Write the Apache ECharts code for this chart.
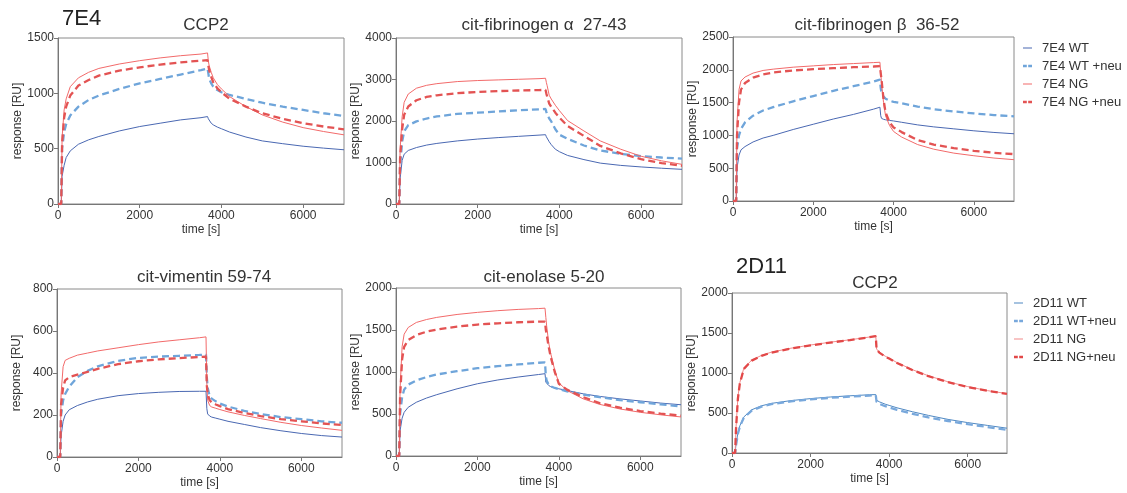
<!DOCTYPE html>
<html>
<head>
<meta charset="utf-8">
<script src="https://cdn.jsdelivr.net/npm/echarts@6/dist/echarts.min.js"></script>
<style>
  html, body { margin: 0; padding: 0; background: #fff; }
  #chart { width: 1127px; height: 493px; }
</style>
</head>
<body>
<div id="chart"></div>
<script>
// sampling times (s), shared by every curve
const time = [0, 80, 100, 150, 200, 300, 500, 750, 1000, 1500, 2000, 2500, 3000, 3500, 3660,
  3680, 3700, 3750, 3800, 3900, 4000, 4200, 4600, 5000, 5500, 6000, 6500, 7000]
const xTicks = [0, 2000, 4000, 6000]

// 7E4 - CCP2
const ccp2WT = [0, 0, 250, 350, 420, 480, 540, 580, 610, 660, 700, 730, 760, 780, 790,
  770, 755, 730, 715, 695, 680, 650, 605, 570, 545, 522, 505, 490]
const ccp2WTneu = [0, 0, 500, 650, 720, 800, 880, 940, 980, 1040, 1090, 1130, 1170, 1210, 1225,
  1180, 1130, 1090, 1060, 1030, 1010, 985, 950, 915, 880, 850, 820, 795]
const ccp2NG = [0, 0, 600, 850, 950, 1060, 1140, 1190, 1225, 1265, 1295, 1320, 1340, 1355, 1365,
  1290, 1250, 1190, 1140, 1080, 1040, 970, 880, 805, 740, 690, 655, 625]
const ccp2NGneu = [0, 0, 550, 780, 880, 980, 1070, 1120, 1160, 1205, 1235, 1260, 1280, 1295, 1300,
  1250, 1210, 1150, 1100, 1045, 1010, 950, 880, 820, 770, 730, 700, 675]

// 7E4 - cit-fibrinogen alpha 27-43
const fibaWT = [0, 0, 600, 1050, 1200, 1290, 1360, 1420, 1460, 1520, 1565, 1600, 1630, 1660, 1670,
  1620, 1580, 1500, 1430, 1320, 1260, 1170, 1070, 985, 930, 893, 862, 835]
const fibaWTneu = [0, 0, 900, 1500, 1750, 1900, 1990, 2060, 2110, 2170, 2200, 2230, 2260, 2280, 2290,
  2220, 2160, 2060, 1990, 1800, 1670, 1570, 1410, 1290, 1210, 1155, 1120, 1092]
const fibaNG = [0, 0, 1300, 2100, 2450, 2650, 2790, 2860, 2900, 2950, 2975, 2990, 3005, 3020, 3030,
  2930, 2850, 2620, 2530, 2380, 2250, 2010, 1760, 1520, 1320, 1150, 1040, 955]
const fibaNGneu = [0, 0, 1100, 1800, 2150, 2350, 2500, 2580, 2620, 2670, 2700, 2720, 2735, 2745, 2750,
  2660, 2590, 2420, 2340, 2200, 2080, 1880, 1640, 1400, 1220, 1080, 985, 920]

// 7E4 - cit-fibrinogen beta 36-52
const fibbWT = [0, 0, 500, 700, 780, 830, 900, 960, 1000, 1090, 1170, 1250, 1320, 1400, 1430,
  1300, 1260, 1245, 1238, 1228, 1220, 1200, 1160, 1130, 1100, 1070, 1045, 1025]
const fibbWTneu = [0, 0, 800, 1000, 1100, 1200, 1300, 1380, 1430, 1520, 1600, 1680, 1750, 1820, 1850,
  1720, 1650, 1590, 1560, 1530, 1510, 1490, 1440, 1400, 1365, 1335, 1310, 1290]
const fibbNG = [0, 0, 1200, 1700, 1830, 1890, 1950, 1990, 2010, 2040, 2060, 2080, 2095, 2110, 2115,
  1950, 1800, 1500, 1300, 1150, 1060, 975, 860, 790, 730, 690, 655, 630]
const fibbNGneu = [0, 0, 1000, 1500, 1700, 1800, 1880, 1930, 1960, 1990, 2010, 2025, 2040, 2050, 2055,
  1950, 1850, 1550, 1350, 1200, 1120, 1050, 930, 860, 805, 765, 735, 715]

// 7E4 - cit-vimentin 59-74
const vimWT = [0, 0, 100, 170, 200, 225, 245, 262, 275, 292, 302, 308, 312, 313, 313,
  230, 205, 195, 190, 185, 180, 170, 155, 140, 125, 112, 102, 95]
const vimWTneu = [0, 0, 200, 270, 300, 335, 380, 410, 432, 458, 472, 478, 482, 486, 488,
  380, 330, 290, 278, 265, 255, 240, 220, 205, 190, 180, 170, 163]
const vimNG = [0, 0, 300, 430, 460, 470, 485, 495, 505, 520, 535, 548, 558, 568, 572,
  350, 270, 245, 238, 232, 226, 215, 198, 183, 165, 150, 138, 127]
const vimNGneu = [0, 0, 250, 330, 365, 380, 392, 405, 420, 442, 456, 465, 471, 476, 478,
  340, 300, 270, 260, 250, 242, 228, 210, 195, 180, 170, 160, 152]

// 7E4 - cit-enolase 5-20
const enoWT = [0, 0, 300, 450, 520, 580, 640, 690, 730, 800, 860, 905, 940, 970, 980,
  880, 860, 840, 825, 810, 800, 780, 740, 710, 680, 655, 630, 610]
const enoWTneu = [0, 0, 500, 700, 790, 850, 900, 940, 970, 1010, 1045, 1070, 1090, 1110, 1115,
  950, 900, 850, 830, 810, 795, 770, 730, 700, 665, 640, 615, 590]
const enoNG = [0, 0, 800, 1300, 1450, 1530, 1590, 1625, 1650, 1685, 1710, 1730, 1745, 1755, 1760,
  1650, 1550, 1350, 1220, 1020, 870, 780, 680, 615, 560, 520, 490, 465]
const enoNGneu = [0, 0, 700, 1150, 1300, 1380, 1440, 1480, 1505, 1540, 1565, 1580, 1592, 1600, 1600,
  1500, 1450, 1300, 1180, 1000, 860, 790, 700, 630, 575, 535, 505, 480]

// 2D11 - CCP2
const d11WT = [0, 0, 100, 250, 340, 450, 540, 590, 620, 655, 680, 700, 715, 728, 730,
  660, 650, 640, 628, 610, 595, 565, 515, 470, 420, 380, 345, 310]
const d11WTneu = [0, 0, 90, 240, 330, 440, 530, 580, 610, 645, 670, 690, 705, 718, 722,
  640, 628, 615, 602, 585, 570, 540, 490, 445, 400, 360, 325, 290]
const d11NG = [0, 0, 300, 700, 880, 1060, 1160, 1220, 1260, 1310, 1350, 1385, 1415, 1450, 1465,
  1300, 1285, 1260, 1240, 1210, 1185, 1130, 1040, 965, 890, 830, 780, 742]
const d11NGneu = [0, 0, 280, 680, 870, 1050, 1155, 1215, 1255, 1305, 1345, 1380, 1412, 1447, 1462,
  1295, 1280, 1255, 1235, 1205, 1180, 1125, 1035, 960, 885, 825, 777, 738]

const names7E4 = ['7E4 WT', '7E4 WT +neu', '7E4 NG', '7E4 NG +neu']
const names2D11 = ['2D11 WT', '2D11 WT+neu', '2D11 NG', '2D11 NG+neu']

const panels = [
  { title: 'CCP2', yMax: 1500, yStep: 500, names: names7E4, data: [ccp2WT, ccp2WTneu, ccp2NG, ccp2NGneu],
    grid: { left: 58, top: 38, width: 286, height: 166 }, tx: 201, ty: 12 },
  { title: 'cit-fibrinogen α  27-43', yMax: 4000, yStep: 1000, names: names7E4, data: [fibaWT, fibaWTneu, fibaNG, fibaNGneu],
    grid: { left: 396, top: 38, width: 286, height: 166 }, tx: 539, ty: 12 },
  { title: 'cit-fibrinogen β  36-52', yMax: 2500, yStep: 500, names: names7E4, data: [fibbWT, fibbWTneu, fibbNG, fibbNGneu],
    grid: { left: 733, top: 37, width: 281, height: 164 }, tx: 872, ty: 12 },
  { title: 'cit-vimentin 59-74', yMax: 800, yStep: 200, names: names7E4, data: [vimWT, vimWTneu, vimNG, vimNGneu],
    grid: { left: 57, top: 289, width: 285, height: 168 }, tx: 199, ty: 264 },
  { title: 'cit-enolase 5-20', yMax: 2000, yStep: 500, names: names7E4, data: [enoWT, enoWTneu, enoNG, enoNGneu],
    grid: { left: 396, top: 288, width: 285, height: 168 }, tx: 539, ty: 264 },
  { title: 'CCP2', yMax: 2000, yStep: 500, names: names2D11, data: [d11WT, d11WTneu, d11NG, d11NGneu],
    grid: { left: 732, top: 293, width: 275, height: 160 }, tx: 870, ty: 270 }
]

const font = 'Liberation Sans, Arial, sans-serif'
const styles7E4 = [
  { color: '#4a68b2', width: 1, type: 'solid' },
  { color: '#6fa5da', width: 2.3, type: [7, 4] },
  { color: '#f26a6a', width: 1, type: 'solid' },
  { color: '#e35353', width: 2.3, type: [7, 4] }
]
const styles2D11 = [
  { color: '#4f88c2', width: 1, type: 'solid' },
  { color: '#78a8dc', width: 2.3, type: [7, 4] },
  { color: '#f28a8a', width: 1, type: 'solid' },
  { color: '#e24848', width: 2.3, type: [7, 4] }
]

// legend icons: 14x2.4 box, mark drawn in the left 9px (tiny slivers fix the box)
const solidIcon = 'path://M0,0H0.01V0.01H0Z M0,0.8H9V1.6H0Z M13.99,2.39H14V2.4H13.99Z'
const dashIcon = 'path://M0,0H3.8V2.4H0Z M5.2,0H9V2.4H5.2Z M13.99,2.39H14V2.4H13.99Z'
const legendItems = (names) => names.map((n, k) => ({ name: n, icon: k % 2 === 0 ? solidIcon : dashIcon }))

const grids = []
const xAxes = []
const yAxes = []
const series = []
const titles = [
  { text: '7E4', left: 57, top: 3, textStyle: { fontSize: 22, fontWeight: 'normal', color: '#222', fontFamily: font } },
  { text: '2D11', left: 731, top: 251, textStyle: { fontSize: 22, fontWeight: 'normal', color: '#222', fontFamily: font } }
]

panels.forEach((p, i) => {
  grids.push(Object.assign({ show: true, borderColor: '#8a8a8a', borderWidth: 1, containLabel: false }, p.grid))
  titles.push({ text: p.title, left: p.tx, top: p.ty, textAlign: 'center',
    textStyle: { fontSize: 17, fontWeight: 'normal', color: '#333', fontFamily: font } })
  xAxes.push({
    gridIndex: i, type: 'value', min: 0, max: 7000,
    name: 'time [s]', nameLocation: 'middle', nameGap: 20,
    nameTextStyle: { fontSize: 12, color: '#333', fontFamily: font },
    axisLine: { show: true, lineStyle: { color: '#777' } },
    axisTick: { show: true, length: 4, customValues: xTicks, lineStyle: { color: '#777' } },
    axisLabel: { customValues: xTicks, fontSize: 12, color: '#333', margin: 6, fontFamily: font,
      formatter: (v) => String(v) },
    splitLine: { show: false }
  })
  yAxes.push({
    gridIndex: i, type: 'value', min: 0, max: p.yMax, interval: p.yStep,
    name: 'response [RU]', nameLocation: 'middle', nameGap: 34,
    nameTextStyle: { fontSize: 12, color: '#333', fontFamily: font },
    axisLine: { show: true, lineStyle: { color: '#777' } },
    axisTick: { show: true, length: 4, lineStyle: { color: '#777' } },
    axisLabel: { fontSize: 12, color: '#333', margin: 4, fontFamily: font,
      formatter: (v) => String(v) },
    splitLine: { show: false }
  })
  const st = i === 5 ? styles2D11 : styles7E4
  p.data.forEach((vals, k) => {
    series.push({
      name: p.names[k], type: 'line', xAxisIndex: i, yAxisIndex: i,
      showSymbol: false, symbol: 'none', smooth: false,
      itemStyle: { color: st[k].color },
      lineStyle: { color: st[k].color, width: st[k].width, type: st[k].type },
      data: time.map((t, j) => [t, vals[j]])
    })
  })
})

const chart = echarts.init(document.getElementById('chart'))
chart.setOption({
  animation: false,
  backgroundColor: '#fff',
  title: titles,
  grid: grids,
  xAxis: xAxes,
  yAxis: yAxes,
  legend: [
    { id: 'lg7e4', data: legendItems(names7E4), orient: 'vertical', left: 1023, top: 41,
      itemWidth: 14, itemHeight: 2.4, itemGap: 4, symbolKeepAspect: false, padding: 0,
      textStyle: { fontSize: 13, color: '#333', fontFamily: font, lineHeight: 14 } },
    { id: 'lg2d11', data: legendItems(names2D11), orient: 'vertical', left: 1014, top: 296,
      itemWidth: 14, itemHeight: 2.4, itemGap: 4, symbolKeepAspect: false, padding: 0,
      textStyle: { fontSize: 13, color: '#333', fontFamily: font, lineHeight: 14 } }
  ],
  series: series
})
</script>
</body>
</html>
